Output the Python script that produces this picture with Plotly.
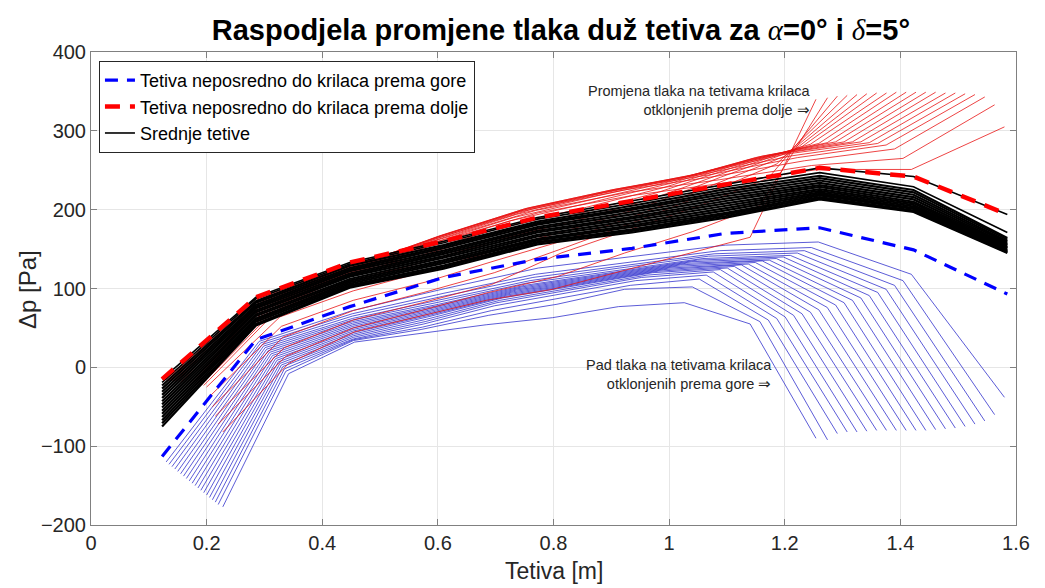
import plotly.graph_objects as go

# Relative chordwise stations (0 = leading edge, 1 = trailing edge)
STATION_FRAC = [0.0, 0.111, 0.222, 0.333, 0.444, 0.556, 0.667, 0.778, 0.889, 1.0]

# Middle chords share one geometry [m]
MID_LE, MID_TE = 0.123, 1.585

# Aileron chords: leading / trailing edge positions [m]
AIL_LE = [0.130, 0.135, 0.140, 0.145, 0.150, 0.155, 0.160, 0.165, 0.170, 0.175,
          0.180, 0.185, 0.190, 0.195, 0.200, 0.205, 0.210, 0.215, 0.220, 0.228]
AIL_TE = [1.580, 1.563, 1.546, 1.529, 1.512, 1.495, 1.478, 1.461, 1.444, 1.427,
          1.410, 1.393, 1.376, 1.359, 1.342, 1.325, 1.308, 1.291, 1.274, 1.254]

# Chords next to the ailerons [Pa]
DP_EDGE_UP = [-113, 35, 77, 114, 137, 151, 170, 177, 149, 93]
DP_EDGE_DOWN = [-15, 89, 133, 160, 190, 211, 232, 253, 242, 194]

# Middle chords [Pa]
DP_MID = [
    [-15, 89, 133, 160, 190, 211, 232, 253, 242, 194],
    [-19, 87, 131, 158, 188, 208, 229, 247, 229, 171],
    [-23, 84, 129, 155, 185, 205, 226, 243, 225, 164],
    [-27, 82, 126, 153, 183, 202, 223, 240, 222, 162],
    [-31, 79, 124, 151, 181, 200, 220, 237, 219, 160],
    [-35, 77, 122, 148, 178, 197, 217, 234, 216, 158],
    [-39, 75, 119, 146, 176, 194, 214, 231, 213, 156],
    [-43, 72, 117, 144, 173, 191, 211, 229, 210, 155],
    [-47, 70, 115, 141, 171, 189, 208, 226, 208, 153],
    [-51, 67, 112, 139, 168, 186, 205, 224, 206, 152],
    [-55, 65, 110, 136, 166, 183, 202, 222, 204, 151],
    [-59, 62, 108, 134, 163, 180, 199, 220, 202, 149],
    [-63, 60, 106, 132, 161, 178, 196, 218, 201, 148],
    [-67, 58, 104, 129, 159, 175, 194, 216, 199, 147],
    [-71, 55, 102, 127, 158, 173, 192, 214, 198, 146],
    [-75, 53, 101, 125, 156, 171, 190, 213, 197, 145],
]

# Chords on ailerons deflected upwards [Pa]
DP_AIL_UP = [
    [-120, 33, 72, 100, 126, 141, 155, 159, 118, -38],
    [-123, 31, 68, 94, 118, 133, 148, 152, 110, -60],
    [-126, 29, 65, 90, 114, 129, 144, 148, 104, -68],
    [-129, 27, 62, 86, 110, 126, 141, 145, 99, -72],
    [-132, 25, 60, 83, 107, 123, 138, 142, 95, -75],
    [-135, 23, 58, 80, 104, 120, 136, 140, 91, -77],
    [-138, 21, 56, 78, 102, 118, 134, 138, 88, -78],
    [-141, 19, 54, 76, 100, 116, 132, 136, 85, -79],
    [-144, 17, 52, 74, 98, 114, 130, 135, 82, -80],
    [-147, 15, 50, 72, 96, 112, 128, 133, 79, -80],
    [-150, 13, 48, 70, 94, 110, 126, 131, 76, -80],
    [-153, 11, 46, 68, 92, 108, 124, 130, 73, -80],
    [-156, 9, 44, 66, 90, 106, 122, 128, 70, -80],
    [-159, 7, 42, 64, 88, 104, 120, 126, 68, -80],
    [-162, 5, 40, 61, 85, 101, 117, 124, 66, -81],
    [-165, 3, 38, 58, 82, 98, 114, 121, 64, -82],
    [-168, 1, 36, 55, 78, 94, 110, 117, 62, -82],
    [-171, -2, 35, 51, 72, 88, 104, 112, 60, -84],
    [-174, -5, 34, 48, 66, 80, 99, 102, 58, -92],
    [-177, -8, 32, 43, 54, 63, 77, 82, 55, -90],
]

# Chords on ailerons deflected downwards [Pa]
DP_AIL_DOWN = [
    [-16, 88, 131, 162, 196, 218, 234, 251, 251, 305],
    [-17, 87, 130, 164, 199, 222, 238, 256, 265, 333],
    [-18, 86, 129, 166, 201, 225, 242, 262, 277, 343],
    [-18, 85, 128, 167, 202, 226, 244, 266, 282, 346],
    [-19, 84, 127, 167, 202, 226, 245, 268, 284, 347],
    [-19, 83, 126, 166, 201, 225, 245, 270, 285, 348],
    [-20, 82, 125, 165, 199, 223, 244, 270, 286, 348],
    [-20, 81, 124, 163, 197, 221, 242, 269, 286, 349],
    [-21, 80, 123, 161, 194, 218, 240, 268, 286, 349],
    [-21, 79, 122, 158, 190, 214, 237, 266, 286, 349],
    [-22, 78, 121, 155, 186, 209, 233, 263, 285, 349],
    [-22, 77, 120, 150, 180, 203, 228, 259, 284, 349],
    [-23, 76, 119, 145, 173, 196, 222, 254, 283, 348],
    [-23, 74, 110, 135, 163, 187, 214, 248, 280, 348],
    [-25, 64, 97, 122, 150, 176, 205, 241, 275, 347],
    [-37, 52, 85, 108, 136, 163, 195, 232, 268, 346],
    [-50, 38, 72, 95, 120, 152, 185, 220, 258, 345],
    [-62, 25, 60, 82, 105, 145, 175, 205, 240, 344],
    [-72, 14, 50, 72, 95, 115, 145, 172, 205, 342],
    [-82, 5, 45, 65, 85, 99, 121, 143, 165, 340],
]

LABEL_UP = "Tetiva neposredno do krilaca prema gore"
LABEL_DOWN = "Tetiva neposredno do krilaca prema dolje"
LABEL_MID = "Srednje tetive"


def chord_x(le, te):
    return [le + f * (te - le) for f in STATION_FRAC]


FONT = "Liberation Sans, Arial, Helvetica, sans-serif"
fig = go.Figure()

# upward-deflected aileron chords
for le, te, dp in zip(AIL_LE, AIL_TE, DP_AIL_UP):
    fig.add_trace(go.Scatter(x=chord_x(le, te), y=dp, mode="lines",
                             line=dict(color="rgb(50,50,205)", width=0.8),
                             showlegend=False, hoverinfo="skip"))

# downward-deflected aileron chords
for le, te, dp in zip(AIL_LE, AIL_TE, DP_AIL_DOWN):
    fig.add_trace(go.Scatter(x=chord_x(le, te), y=dp, mode="lines",
                             line=dict(color="rgb(232,20,20)", width=0.8),
                             showlegend=False, hoverinfo="skip"))

# middle chords
mid_x = chord_x(MID_LE, MID_TE)
for k, dp in enumerate(DP_MID):
    fig.add_trace(go.Scatter(x=mid_x, y=dp, mode="lines",
                             line=dict(color="black", width=2.2 if k > 1 else 1.6),
                             name=LABEL_MID, legendrank=3, legendgroup="mid",
                             showlegend=(k == 0), hoverinfo="skip"))

fig.add_trace(go.Scatter(x=mid_x, y=DP_EDGE_UP, mode="lines",
                         line=dict(color="rgb(0,0,255)", width=3.2, dash="13px,9px"),
                         name=LABEL_UP, legendrank=1, hoverinfo="skip"))
fig.add_trace(go.Scatter(x=mid_x, y=DP_EDGE_DOWN, mode="lines",
                         line=dict(color="rgb(255,0,0)", width=4.5, dash="15px,10px"),
                         name=LABEL_DOWN, legendrank=2, hoverinfo="skip"))

axis_common = dict(
    showline=True, linecolor="#808080", linewidth=1, mirror="ticks",
    ticks="inside", ticklen=6, tickcolor="#808080",
    showgrid=True, gridcolor="#e6e6e6", gridwidth=1, zeroline=False,
    tickfont=dict(family=FONT, size=20, color="#262626"),
)

fig.update_xaxes(range=[0, 1.6], dtick=0.2, tick0=0, **axis_common)
fig.update_yaxes(range=[-200, 400], dtick=100, tick0=-200, **axis_common)

serif_i = "<span style='font-family:Liberation Serif,serif;font-weight:normal'><i>{}</i></span>"
fig.update_layout(
    width=1045, height=588,
    margin=dict(l=91, r=29, t=52, b=63),
    paper_bgcolor="white", plot_bgcolor="white",
    font=dict(family=FONT, color="#262626"),
    title=dict(
        text="<b>Raspodjela promjene tlaka duž tetiva za " + serif_i.format("α")
             + "=0° i " + serif_i.format("δ") + "=5°</b>",
        xref="paper", x=0.508, xanchor="center", y=0.950, yanchor="middle",
        font=dict(family=FONT, size=29, color="black"),
    ),
    legend=dict(
        x=0.0086, y=0.981, xanchor="left", yanchor="top",
        bgcolor="white", bordercolor="#262626", borderwidth=1,
        font=dict(family=FONT, size=18, color="black"),
        tracegroupgap=0, itemwidth=30,
    ),
    showlegend=True,
)

annotations = [
    dict(text="Tetiva [m]", xref="paper", yref="paper", x=0.5, y=-0.097,
         showarrow=False, xanchor="center", yanchor="middle",
         font=dict(family=FONT, size=23, color="#262626")),
    dict(text="Δp [Pa]", xref="paper", yref="paper", x=-0.068, y=0.497,
         showarrow=False, xanchor="center", yanchor="middle", textangle=-90,
         font=dict(family=FONT, size=24, color="#262626")),
    dict(text="Promjena tlaka na tetivama krilaca<br>otklonjenih prema dolje ⇒",
         xref="x", yref="y", x=1.2485, y=338, showarrow=False,
         xanchor="right", yanchor="middle", align="right",
         font=dict(family=FONT, size=14.5, color="#262626")),
    dict(text="Pad tlaka na tetivama krilaca<br>otklonjenih prema gore ⇒",
         xref="x", yref="y", x=1.181, y=-8.5, showarrow=False,
         xanchor="right", yanchor="middle", align="right",
         font=dict(family=FONT, size=14.5, color="#262626")),
]
fig.update_layout(annotations=annotations)

fig.write_html("out.html")
